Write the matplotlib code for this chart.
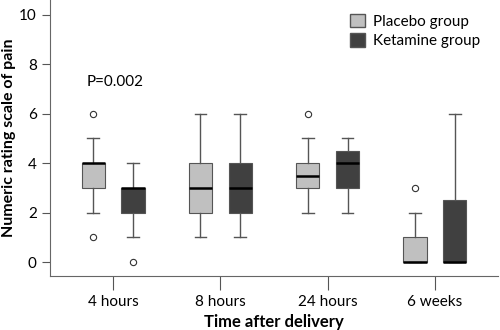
import matplotlib
matplotlib.use("Agg")
import matplotlib.pyplot as plt
from matplotlib.patches import Patch

plt.rcParams['font.family'] = ['Lato', 'DejaVu Sans']

# time points and groups
times = ['4 hours', '8 hours', '24 hours', '6 weeks']
groups = ['Placebo group', 'Ketamine group']
colors = ['#c0c0c0', '#404040']

# box stats: whislo, q1, med, q3, whishi, fliers
placebo_lo = [2, 1, 2, 0]
placebo_q1 = [3, 2, 3, 0]
placebo_med = [4, 3, 3.5, 0]
placebo_q3 = [4, 4, 4, 1]
placebo_hi = [5, 6, 5, 2]
placebo_fl = [[1, 6], [], [6], [3]]

ketamine_lo = [1, 1, 2, 0]
ketamine_q1 = [2, 2, 3, 0]
ketamine_med = [3, 3, 4, 0]
ketamine_q3 = [3, 4, 4.5, 2.5]
ketamine_hi = [4, 6, 5, 6]
ketamine_fl = [[0], [], [], []]

series = [
    (placebo_lo, placebo_q1, placebo_med, placebo_q3, placebo_hi, placebo_fl),
    (ketamine_lo, ketamine_q1, ketamine_med, ketamine_q3, ketamine_hi, ketamine_fl),
]

fig = plt.figure(figsize=(5, 3.3), dpi=100)
ax = fig.add_axes([0.1, 0.164, 0.896, 0.836])

offsets = [-0.186, 0.186]
for k, (lo, q1, med, q3, hi, fl) in enumerate(series):
    stats = []
    for i in range(len(times)):
        stats.append(dict(whislo=lo[i], q1=q1[i], med=med[i], q3=q3[i],
                          whishi=hi[i], fliers=fl[i]))
    pos = [i + offsets[k] for i in range(len(times))]
    ax.bxp(stats, positions=pos, widths=0.22, patch_artist=True,
           showfliers=True, manage_ticks=False,
           boxprops=dict(facecolor=colors[k], edgecolor='#555555', linewidth=0.8),
           medianprops=dict(color='black', linewidth=1.8),
           whiskerprops=dict(color='#555555', linewidth=1.0),
           capprops=dict(color='#555555', linewidth=1.0),
           capwidths=0.11,
           flierprops=dict(marker='o', markersize=4.5, markerfacecolor='white',
                           markeredgecolor='#333333', markeredgewidth=0.8))

ax.set_xlim(-0.59, 3.59)
ax.set_ylim(-0.56, 10.6)
ax.set_xticks(range(len(times)))
ax.set_xticklabels(times)
ax.set_yticks([0, 2, 4, 6, 8, 10])
ax.tick_params(axis='both', labelsize=11, color='#555555', length=6)
ax.tick_params(axis='x', length=10)
for s in ['top', 'right']:
    ax.spines[s].set_visible(False)
for s in ['left', 'bottom']:
    ax.spines[s].set_color('#666666')

ax.set_xlabel('Time after delivery', fontsize=12, fontweight='bold')
ax.set_ylabel('Numeric rating scale of pain', fontsize=11.5, fontweight='bold',
              labelpad=2)

ax.text(0.02, 7.3, 'P=0.002', fontsize=11, ha='center', va='center')

handles = [Patch(facecolor=c, edgecolor='#555555') for c in colors]
ax.legend(handles, groups, loc='upper right', bbox_to_anchor=(0.99, 1.0),
          frameon=False, fontsize=11, handlelength=1.0, handleheight=1.0,
          handletextpad=0.5, labelspacing=0.3)

fig.savefig('out.png', dpi=100)
